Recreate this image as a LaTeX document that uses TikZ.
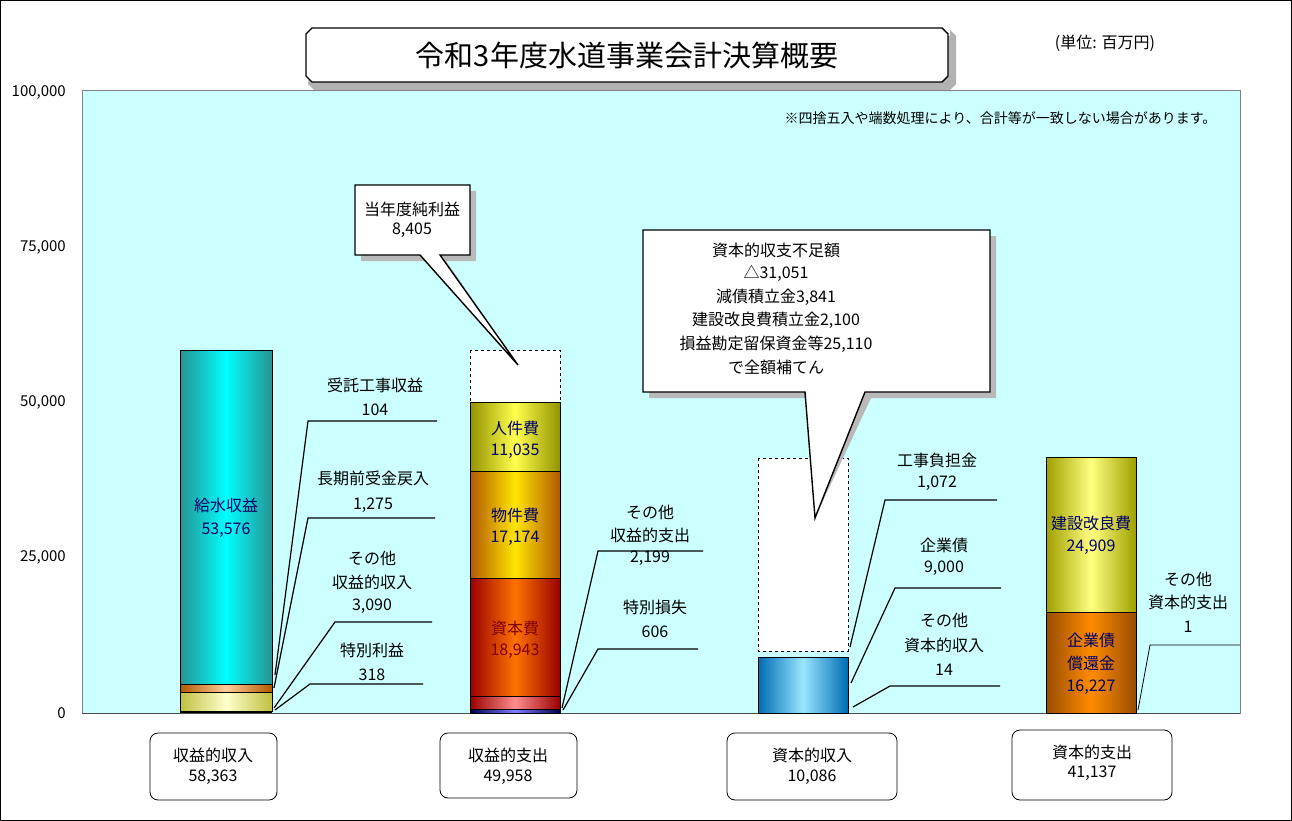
\documentclass[tikz,border=0pt]{standalone}
\usepackage{fontspec}
\setmainfont{Noto Sans CJK JP}
\definecolor{plotbg}{RGB}{204,255,255}
\begin{document}
\begin{tikzpicture}[x=1pt,y=-1pt,
  lbl/.style={font=\fontsize{16}{18}\selectfont,inner sep=0pt,anchor=center},
  ax/.style={font=\fontsize{15}{17}\selectfont,inner sep=0pt,anchor=east},
  lead/.style={draw=black,line width=1.2pt},
  cyl/.style args={#1/#2}{left color=#2,right color=#2,middle color=#1,draw=black,line width=0.8pt},
  botbox/.style={draw=black,rounded corners=8pt,fill=white,line width=0.8pt},
  dbox/.style={draw=black,dashed,line width=0.9pt,fill=white}]
\useasboundingbox (0,0) rectangle (1292,821);
\fill[white] (0,0) rectangle (1292,821);
\draw[black,line width=1pt] (0.5,0.5) rectangle (1291.5,820.5);
% plot area
\fill[plotbg] (82,90) rectangle (1240,713);
\draw[gray,line width=0.8pt] (82,90) rectangle (1240,713);
\draw[black!70,line width=1pt] (82,713) -- (1240,713);
\node[ax] (y100) at (66,92) {100,000};
\node[ax] (y75) at (66,247) {75,000};
\node[ax] (y50) at (66,402) {50,000};
\node[ax] (y25) at (66,557) {25,000};
\node[ax] (y0) at (66,713) {0};
% title
\fill[gray!60] (314,36) -- (950,36) -- (950,30) -- (956,36) -- (956,84) -- (950,90) -- (314,90) -- (308,84) -- cycle;
\draw[fill=white,line width=1.4pt] (312,28) -- (942,28) -- (948,34) -- (948,76) -- (942,82) -- (312,82) -- (306,76) -- (306,34) -- cycle;
\node[font=\fontsize{29}{32}\selectfont] (title) at (627,55) {令和3年度水道事業会計決算概要};
\node[font=\fontsize{16}{18}\selectfont] (unit) at (1105,43) {(単位: 百万円)};
\node[font=\fontsize{14}{16}\selectfont,anchor=east] (note) at (1220,118) {※四捨五入や端数処理により、合計等が一致しない場合があります。};
% bar 1
\draw[cyl={cyan}/{teal!85}] (180,350) rectangle (272,684);
\draw[cyl={orange!40}/{orange!70!black}] (180,684) rectangle (272,692);
\draw[cyl={yellow!20}/{olive!50}] (180,692) rectangle (272,711);
\draw[black,line width=2pt] (180,712) -- (272,712);
\node[lbl,text=blue!40!black] (b1a) at (226,505) {給水収益};
\node[lbl,text=blue!40!black] (b1b) at (226,530) {53,576};
% bar 2
\draw[dbox] (470,350) rectangle (560,402);
\draw[cyl={yellow!70}/{olive!85}] (470,402) rectangle (560,471);
\draw[cyl={yellow!80!orange}/{orange!70!black}] (470,471) rectangle (560,578);
\draw[cyl={orange!90!red}/{red!60!black}] (470,578) rectangle (560,696);
\draw[cyl={red!45}/{red!60!black}] (470,696) rectangle (560,709);
\draw[cyl={blue!50}/{blue!30!black}] (470,709) rectangle (560,713);
\node[lbl,text=blue!40!black] (b2a) at (515,428) {人件費};
\node[lbl,text=blue!40!black] (b2b) at (515,451) {11,035};
\node[lbl,text=blue!40!black] (b2c) at (515,515) {物件費};
\node[lbl,text=blue!40!black] (b2d) at (515,538) {17,174};
\node[lbl,text=red!50!black] (b2e) at (515,628) {資本費};
\node[lbl,text=red!50!black] (b2f) at (515,651) {18,943};
% bar 3
\draw[dbox] (758,458) rectangle (848,651);
\draw[cyl={blue!25!cyan!40}/{blue!40!cyan!70!black}] (758,657) rectangle (848,713);
% bar 4
\draw[cyl={yellow!50}/{olive!75}] (1046,457) rectangle (1136,612);
\draw[cyl={orange!90!yellow}/{orange!60!black}] (1046,612) rectangle (1136,713);
\node[lbl,text=blue!40!black] (b4a) at (1091,523) {建設改良費};
\node[lbl,text=blue!40!black] (b4b) at (1091,547) {24,909};
\node[lbl,text=blue!40!black] (b4c) at (1091,640) {企業債};
\node[lbl,text=blue!40!black] (b4d) at (1091,663) {償還金};
\node[lbl,text=blue!40!black] (b4e) at (1091,687) {16,227};
% callout 1
\fill[gray!55] (361,191) -- (476,191) -- (476,261) -- (446,261) -- (518,365) -- (426,261) -- (361,261) -- cycle;
\draw[fill=white,line width=1.4pt] (355,185) -- (470,185) -- (470,255) -- (440,255) -- (518,365) -- (420,255) -- (355,255) -- cycle;
\node[lbl] (c1a) at (412,209) {当年度純利益};
\node[lbl] (c1b) at (412,230) {8,405};
% callout 2
\fill[gray!55] (649,236) -- (996,236) -- (996,398) -- (871,398) -- (815,518) -- (811,398) -- (649,398) -- cycle;
\draw[fill=white,line width=1.4pt] (643,230) -- (990,230) -- (990,392) -- (865,392) -- (815,518) -- (805,392) -- (643,392) -- cycle;
\node[lbl] (c2a) at (776,250) {資本的収支不足額};
\node[lbl] (c2b) at (776,273) {△31,051};
\node[lbl] (c2c) at (776,297) {減債積立金3,841};
\node[lbl] (c2d) at (776,320) {建設改良費積立金2,100};
\node[lbl] (c2e) at (776,344) {損益勘定留保資金等25,110};
\node[lbl] (c2f) at (776,367) {で全額補てん};
% leaders bar1
\node[lbl] (l1a) at (375,385) {受託工事収益};
\node[lbl] (l1b) at (375,410) {104};
\draw[lead] (437,421) -- (308,421) -- (275,675);
\node[lbl] (l2a) at (373,478) {長期前受金戻入};
\node[lbl] (l2b) at (373,505) {1,275};
\draw[lead] (435,518) -- (308,518) -- (274,688);
\node[lbl] (l3a) at (372,558) {その他};
\node[lbl] (l3b) at (372,582) {収益的収入};
\node[lbl] (l3c) at (372,606) {3,090};
\draw[lead] (432,622) -- (335,622) -- (274,708);
\node[lbl] (l4a) at (372,650) {特別利益};
\node[lbl] (l4b) at (372,675) {318};
\draw[lead] (423,684) -- (310,684) -- (275,710);
% leaders bar2
\node[lbl] (l5a) at (650,512) {その他};
\node[lbl] (l5b) at (650,535) {収益的支出};
\node[lbl] (l5c) at (650,558) {2,199};
\draw[lead] (703,551) -- (598,551) -- (562,708);
\node[lbl] (l6a) at (655,607) {特別損失};
\node[lbl] (l6b) at (655,632) {606};
\draw[lead] (698,649) -- (598,649) -- (563,710);
% leaders bar3
\node[lbl] (l7a) at (937,460) {工事負担金};
\node[lbl] (l7b) at (937,483) {1,072};
\draw[lead] (997,500) -- (885,500) -- (850,647);
\node[lbl] (l8a) at (944,545) {企業債};
\node[lbl] (l8b) at (944,568) {9,000};
\draw[lead] (1001,588) -- (895,588) -- (851,683);
\node[lbl] (l9a) at (944,620) {その他};
\node[lbl] (l9b) at (944,645) {資本的収入};
\node[lbl] (l9c) at (944,670) {14};
\draw[lead] (1000,686) -- (890,686) -- (853,707);
% leaders bar4
\node[lbl] (l10a) at (1188,579) {その他};
\node[lbl] (l10b) at (1188,602) {資本的支出};
\node[lbl] (l10c) at (1188,627) {1};
\draw[black,line width=0.8pt] (1240,645) -- (1150,645) -- (1138,710);
% bottom boxes
\draw[botbox] (150,733) rectangle (277,800);
\node[lbl] (t1a) at (213,755) {収益的収入};
\node[lbl] (t1b) at (213,777) {58,363};
\draw[botbox] (440,733) rectangle (577,798);
\node[lbl] (t2a) at (508,755) {収益的支出};
\node[lbl] (t2b) at (508,777) {49,958};
\draw[botbox] (727,733) rectangle (897,800);
\node[lbl] (t3a) at (812,755) {資本的収入};
\node[lbl] (t3b) at (812,777) {10,086};
\draw[botbox] (1012,730) rectangle (1172,800);
\node[lbl] (t4a) at (1092,752) {資本的支出};
\node[lbl] (t4b) at (1092,773) {41,137};
\end{tikzpicture}
\end{document}
